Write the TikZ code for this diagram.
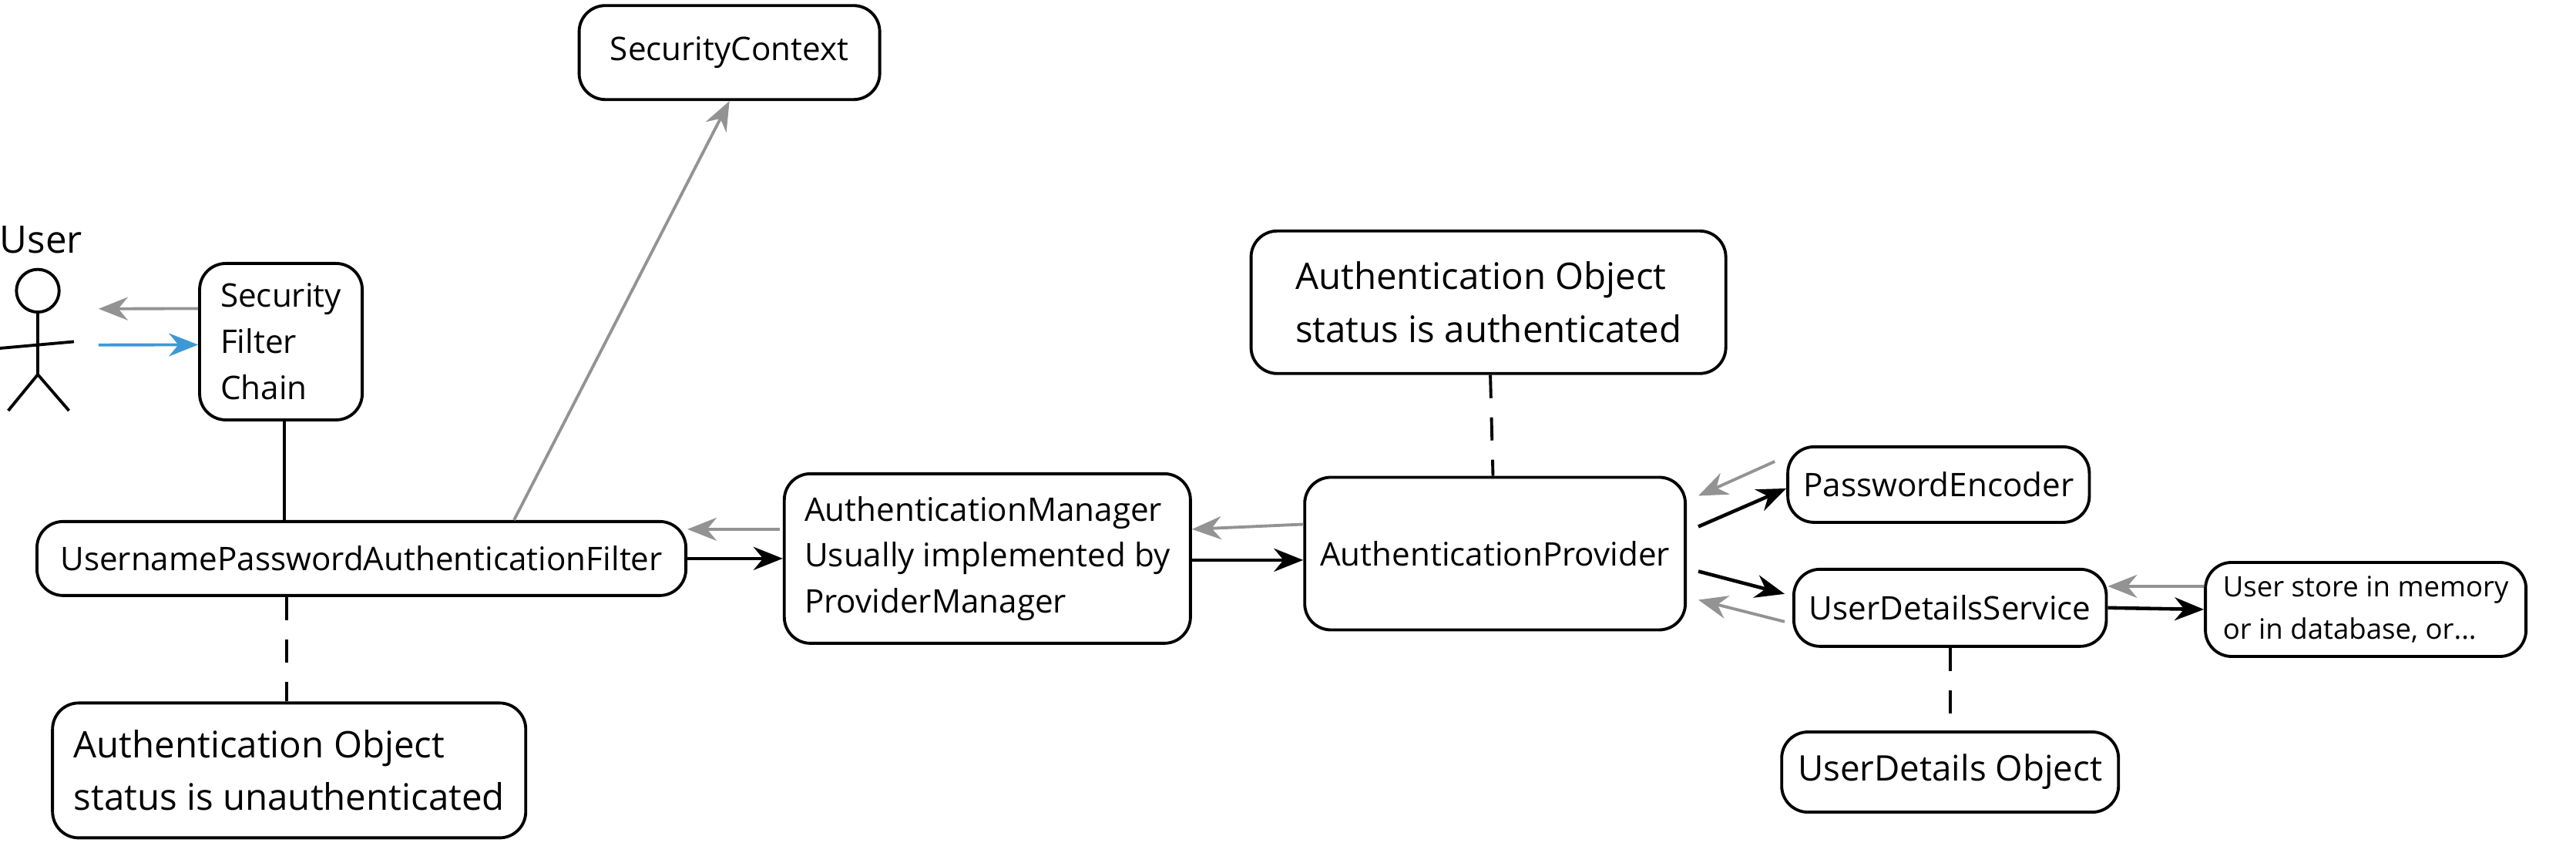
\documentclass[tikz,border=0pt]{standalone}
\usepackage{fontspec}
\setmainfont{Open Sans}
\usetikzlibrary{arrows.meta}
\tikzset{
  box/.style = {draw, line width=1.1pt, rounded corners=0.34cm, inner sep=0.2cm, align=left, font=\fontsize{12}{17}\selectfont},
  bigbox/.style = {box, font=\fontsize{13.5}{19.5}\selectfont},
  fwd/.style = {-{Stealth[length=0.38cm,width=0.3cm]}, line width=1.3pt},
  back/.style = {fwd, gray!85, line width=1.1pt},
  tie/.style = {line width=1.1pt},
  dashtie/.style = {tie, dash pattern=on 0.3cm off 0.25cm}
}
\begin{document}
\begin{tikzpicture}[x=0.02132cm, y=-0.02132cm]
\useasboundingbox (0,0) rectangle (1568,515);
% boxes
\node[box, minimum width=3.9cm, minimum height=1.22cm] (ctx) at (444,32) {SecurityContext};
\node[box, minimum width=2.11cm, minimum height=2.03cm] (chain) at (171,208) {Security\\Filter\\Chain};
\node[box, minimum width=8.42cm, minimum height=0.96cm] (filter) at (220,340) {UsernamePasswordAuthenticationFilter};
\node[bigbox, minimum width=6.14cm, minimum height=1.75cm] (unauth) at (176,469) {Authentication Object\\status is unauthenticated};
\node[box, minimum width=5.27cm, minimum height=2.2cm] (manager) at (601,340) {AuthenticationManager\\Usually implemented by\\ProviderManager};
\node[box, minimum width=4.88cm, minimum height=1.98cm] (provider) at (910,337) {AuthenticationProvider};
\node[bigbox, minimum width=6.16cm, minimum height=1.85cm] (auth) at (906,184) {Authentication Object\\status is authenticated};
\node[box, minimum width=3.71cm, minimum height=0.98cm] (encoder) at (1180,295) {PasswordEncoder};
\node[box, minimum width=3.9cm, minimum height=1.0cm] (uds) at (1187,370) {UserDetailsService};
\node[box, minimum width=4.16cm, minimum height=1.22cm, inner sep=0.1cm, font=\fontsize{10.4}{15.5}\selectfont] (store) at (1440,371) {User store in memory\\or in database, or...};
\node[bigbox, minimum width=4.37cm, minimum height=1.04cm, font=\fontsize{13}{18}\selectfont] (details) at (1187,470) {UserDetails Object};
% user
\node[font=\fontsize{14}{18}\selectfont] (user) at (25,146) {User};
\draw[tie] (23,177) circle (13);
\draw[tie] (23,190) -- (23,228) (0,212) -- (45,208) (5,250) -- (23,228) -- (42,250);
\coordinate (userback) at (60,188);
\coordinate (userfwd) at (60,210);
% connectors
\draw[back] ([yshift=0.43cm]chain.west) -- (userback);
\draw[fwd, color={rgb,255:red,62;green,152;blue,214}, line width=1.1pt] (userfwd) -- ([yshift=-0.04cm]chain.west);
\draw[tie] ([xshift=0.04cm]chain.south) -- ([xshift=0.04cm]chain.south |- filter.north);
\draw[dashtie] ([xshift=-0.97cm]filter.south) -- ([xshift=-0.97cm]filter.south |- unauth.north);
\draw[back] ([xshift=1.98cm]filter.north) -- (ctx.south);
\draw[back] ([yshift=0.38cm]manager.west -| filter.east) ++(1.2cm,0) -- ([yshift=0.38cm]filter.east);
\draw[fwd] (filter.east) -- (manager.west);
\draw[back] ([yshift=0.38cm]provider.west) -- ([yshift=0.38cm]manager.west -| manager.east);
\draw[fwd] ([yshift=-0.02cm]manager.east) -- ([yshift=-0.02cm]manager.east -| provider.west);
\draw[dashtie] (auth) -- (provider);
\draw[back] ([xshift=-0.15cm,yshift=0.3cm]encoder.west) -- ([xshift=0.15cm,yshift=0.75cm]provider.east);
\draw[fwd] ([xshift=0.15cm,yshift=0.35cm]provider.east) -- ([yshift=-0.05cm]encoder.west);
\draw[fwd] ([xshift=0.15cm,yshift=-0.23cm]provider.east) -- ([xshift=-0.1cm,yshift=0.18cm]uds.west);
\draw[back] ([xshift=-0.1cm,yshift=-0.18cm]uds.west) -- ([xshift=0.15cm,yshift=-0.6cm]provider.east);
\draw[back] ([yshift=0.3cm]store.west) -- ([yshift=0.3cm]store.west -| uds.east);
\draw[fwd] (uds.east) -- (store.west);
\draw[dashtie] (uds) -- (details);
\end{tikzpicture}
\end{document}
